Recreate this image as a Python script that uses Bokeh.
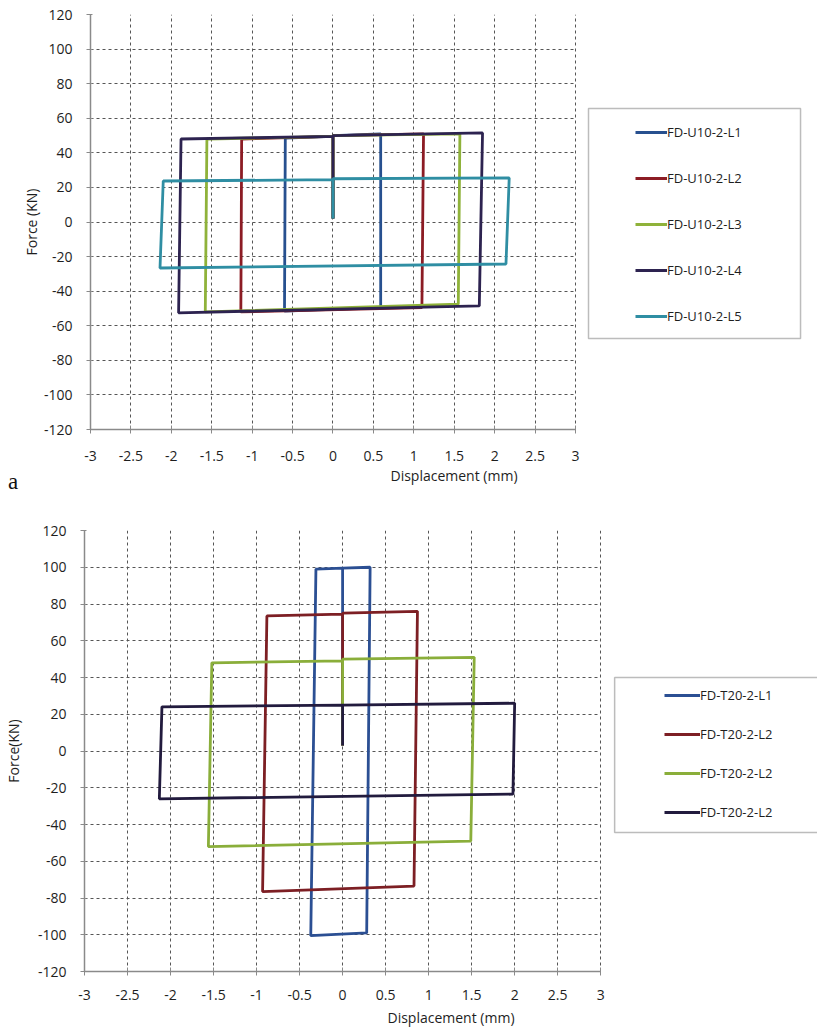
from bokeh.plotting import figure
from bokeh.models import Legend, LegendItem, FixedTicker, Range1d, BoxAnnotation, Div
from bokeh.embed import file_html
from bokeh.resources import INLINE

# ---- shared axis ticks ----
x_ticks = [-3, -2.5, -2, -1.5, -1, -0.5, 0, 0.5, 1, 1.5, 2, 2.5, 3]
x_tick_labels = ["-3", "-2.5", "-2", "-1.5", "-1", "-0.5", "0", "0.5", "1", "1.5", "2", "2.5", "3"]
y_ticks = [-120, -100, -80, -60, -40, -20, 0, 20, 40, 60, 80, 100, 120]
y_tick_labels = ["-120", "-100", "-80", "-60", "-40", "-20", "0", "20", "40", "60", "80", "100", "120"]

# ---- panel a: FD-U10-2 loops ----
a_names = ["FD-U10-2-L1", "FD-U10-2-L2", "FD-U10-2-L3", "FD-U10-2-L4", "FD-U10-2-L5"]
a_colors = ["#27508f", "#8c1c24", "#8fb23a", "#2d2350", "#2f8ea3"]
a_L1_x = [0.0, 0.0, 0.59, 0.59, -0.60, -0.59, 0.0]
a_L1_y = [2, 50, 51, -49.5, -51.5, 48.5, 49.5]
a_L2_x = [0.0, 0.0, 1.12, 1.10, -1.14, -1.13, 0.0]
a_L2_y = [2, 50, 51, -49.5, -52, 48, 49.5]
a_L3_x = [0.0, 0.0, 1.57, 1.55, -1.58, -1.56, 0.0]
a_L3_y = [2, 50, 51, -47.5, -52, 48, 49.5]
a_L4_x = [0.0, 0.0, 1.85, 1.81, -1.91, -1.88, 0.0]
a_L4_y = [2, 50, 51.5, -48.5, -52.5, 48, 49.5]
a_L5_x = [0.0, 0.0, 2.18, 2.14, -2.14, -2.10, 0.0]
a_L5_y = [2, 25, 25.5, -24.3, -26.6, 23.7, 24.5]

# ---- panel b: FD-T20-2 loops ----
b_names = ["FD-T20-2-L1", "FD-T20-2-L2", "FD-T20-2-L2", "FD-T20-2-L2"]
b_colors = ["#2b4f93", "#7d1f24", "#8aae3a", "#221b3e"]
b_L1_x = [0.0, 0.0, 0.32, 0.28, -0.37, -0.31, 0.0]
b_L1_y = [3, 99.5, 100, -99, -100.5, 99, 99.5]
b_L2_x = [0.0, 0.0, 0.87, 0.83, -0.93, -0.88, 0.0]
b_L2_y = [3, 75, 76, -73.5, -76.5, 73.5, 74.5]
b_L3_x = [0.0, 0.0, 1.53, 1.49, -1.56, -1.52, 0.0]
b_L3_y = [3, 50, 51, -49, -52, 48, 49]
b_L4_x = [0.0, 0.0, 2.00, 1.98, -2.13, -2.10, 0.0]
b_L4_y = [3, 25, 26, -23.5, -26, 24, 25]

FONT = "Open Sans"
TEXT = "#1e1e1e"
X_MIN, X_MAX = -3, 3
Y_MIN, Y_MAX = -120, 120


def make_panel(height, borders, x_extent, ylabel, ylabel_standoff, xlabel_standoffs,
               series, names, colors, legend_xy, legend_spacing, legend_glyph_w, legend_box):
    left, top, bottom = borders
    # the frame runs on past x = 3 so the legend can sit beside the grid
    p = figure(width=817, height=height, output_backend="svg", toolbar_location=None,
               x_range=Range1d(X_MIN, x_extent), y_range=Range1d(Y_MIN, Y_MAX),
               min_border_left=left, min_border_right=0,
               min_border_top=top, min_border_bottom=bottom)
    p.outline_line_color = None
    p.background_fill_color = "white"
    p.border_fill_color = None

    p.xaxis.ticker = FixedTicker(ticks=x_ticks)
    p.yaxis.ticker = FixedTicker(ticks=y_ticks)
    p.xaxis.major_label_overrides = dict(zip(x_ticks, x_tick_labels))
    p.yaxis.major_label_overrides = dict(zip(y_ticks, y_tick_labels))
    p.xaxis.bounds = (X_MIN, X_MAX)
    p.xaxis.minor_tick_line_color = None
    p.yaxis.minor_tick_line_color = None
    for ax in (p.xaxis, p.yaxis):
        ax.axis_line_color = "#8a8a8a"
        ax.axis_line_width = 1.5
        ax.major_tick_line_color = "#8a8a8a"
        ax.major_label_text_font = FONT
        ax.major_label_text_font_size = "14px"
        ax.major_label_text_color = TEXT
        ax.axis_label_text_font = FONT
        ax.axis_label_text_font_size = "14px"
        ax.axis_label_text_font_style = "normal"
        ax.axis_label_text_color = TEXT
    p.xaxis.major_tick_in = 4
    p.xaxis.major_tick_out = 4
    p.yaxis.major_tick_in = 2
    p.yaxis.major_tick_out = 4
    p.xaxis.major_label_standoff = xlabel_standoffs[0]
    p.yaxis.major_label_standoff = 14
    p.xaxis.axis_label = "Displacement (mm)"
    p.yaxis.axis_label = ylabel
    p.xaxis.axis_label_standoff = xlabel_standoffs[1]
    p.yaxis.axis_label_standoff = ylabel_standoff

    p.xgrid.bounds = (X_MIN, X_MAX)
    p.xgrid.cross_bounds = (Y_MIN, Y_MAX)
    p.ygrid.bounds = (Y_MIN, Y_MAX)
    p.ygrid.cross_bounds = (X_MIN, X_MAX)
    for g in (p.xgrid, p.ygrid):
        g.grid_line_color = "#555555"
        g.grid_line_width = 1
        g.grid_line_dash = "3 3"

    items = []
    for (xs, ys), name, col in zip(series, names, colors):
        r = p.line(xs, ys, line_color=col, line_width=2.8)
        items.append(LegendItem(label=name, renderers=[r]))

    bl, br, bt, bb = legend_box
    p.add_layout(BoxAnnotation(left=bl, right=br, top=bt, bottom=bb,
                               fill_color="white", fill_alpha=1,
                               line_color="#222222", line_width=1.5))

    legend = Legend(items=items, location=legend_xy,
                    border_line_color=None, background_fill_alpha=0,
                    padding=0, margin=0, spacing=legend_spacing,
                    glyph_width=legend_glyph_w, glyph_height=20,
                    label_height=20, label_standoff=0,
                    label_text_font=FONT, label_text_font_size="13px",
                    label_text_color=TEXT)
    p.add_layout(legend, "center")
    return p


top = make_panel(500, (90, 14, 71), 5.994, "Force (KN)", 0, (17, 2),
                 [(a_L1_x, a_L1_y), (a_L2_x, a_L2_y), (a_L3_x, a_L3_y),
                  (a_L4_x, a_L4_y), (a_L5_x, a_L5_y)],
                 a_names, a_colors, (545, 103), 26, 32,
                 (3.161, 5.784, 65.6, -67.4))

# panel letter, tucked up into the empty lower-left corner of the first chart
letter = Div(text='<div style="font-family: \'Liberation Serif\', serif; font-size: 23px; '
                  'line-height: 22px; color: #111111;">a</div>',
             width=40, height=29, margin=(-29, 0, 0, 8))

bottom = make_panel(532, (80, 30, 61), 5.520, "Force(KN)", 12, (14, 5),
                    [(b_L1_x, b_L1_y), (b_L2_x, b_L2_y), (b_L3_x, b_L3_y),
                     (b_L4_x, b_L4_y)],
                    b_names, b_colors, (580, 149), 19, 36,
                    (3.162, 5.7, 40.0, -44.35))

open("out.html", "w").write(file_html([top, letter, bottom], INLINE))
